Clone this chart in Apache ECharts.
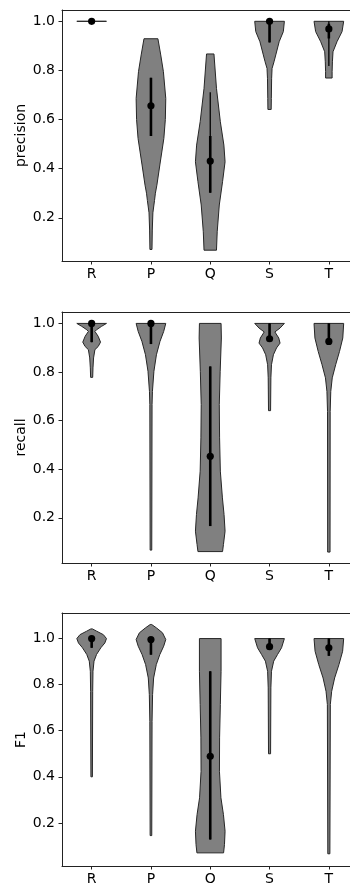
<!DOCTYPE html>
<html>
<head>
<meta charset="utf-8">
<script src="https://cdn.jsdelivr.net/npm/echarts@6/dist/echarts.min.js"></script>
<style>
  html, body { margin: 0; padding: 0; background: #fff; }
  #chart { width: 350px; height: 883px; }
</style>
</head>
<body>
<div id="chart"></div>
<script>
const categories = ['R', 'P', 'Q', 'S', 'T'];
const yTicks = [0.2, 0.4, 0.6, 0.8, 1.0];

// violin outlines, bottom to top: [value, half-width relative to the widest violin]
const precisionShapes = [
  [[1.0, 1.0]],
  [[0.071, 0.07], [0.15, 0.09], [0.22, 0.13], [0.252, 0.2], [0.27, 0.24], [0.30, 0.3], [0.333, 0.4], [0.415, 0.6], [0.523, 0.87], [0.6, 0.97], [0.686, 1.0], [0.795, 0.84], [0.863, 0.66], [0.929, 0.47]],
  [[0.068, 0.42], [0.143, 0.47], [0.252, 0.61], [0.347, 0.83], [0.428, 1.0], [0.496, 0.92], [0.591, 0.68], [0.727, 0.42], [0.867, 0.25]],
  [[0.641, 0.11], [0.686, 0.12], [0.768, 0.14], [0.808, 0.17], [0.835, 0.3], [0.863, 0.42], [0.917, 0.65], [0.958, 0.93], [1.0, 1.0]],
  [[0.769, 0.22], [0.795, 0.22], [0.835, 0.24], [0.876, 0.28], [0.917, 0.55], [0.958, 0.89], [1.0, 1.0]]
];
const precisionWhisker = [[1.0, 1.0], [0.533, 0.770], [0.302, 0.711], [0.914, 1.0], [0.818, 1.0]];
const precisionBox = [[1.0, 1.0], [0.533, 0.770], [0.302, 0.533], [0.914, 1.0], [0.93, 0.99]];
const precisionMedian = [1.0, 0.656, 0.431, 1.0, 0.969];

const recallShapes = [
  [[0.778, 0.07], [0.817, 0.09], [0.858, 0.13], [0.892, 0.22], [0.905, 0.44], [0.923, 0.6], [0.947, 0.44], [0.967, 0.22], [0.974, 0.33], [0.988, 0.67], [1.0, 1.0]],
  [[0.067, 0.055], [0.666, 0.075], [0.72, 0.1], [0.803, 0.2], [0.871, 0.37], [0.926, 0.61], [0.967, 0.86], [1.0, 1.0]],
  [[0.061, 0.83], [0.09, 0.89], [0.145, 1.0], [0.214, 0.93], [0.282, 0.82], [0.392, 0.68], [0.529, 0.63], [0.666, 0.61], [0.803, 0.67], [0.94, 0.75], [1.0, 0.73]],
  [[0.641, 0.07], [0.776, 0.09], [0.83, 0.13], [0.871, 0.26], [0.899, 0.47], [0.919, 0.71], [0.94, 0.62], [0.965, 0.36], [0.981, 0.71], [1.0, 1.0]],
  [[0.059, 0.08], [0.638, 0.09], [0.72, 0.13], [0.776, 0.23], [0.83, 0.46], [0.885, 0.72], [0.94, 0.94], [1.0, 1.0]]
];
const recallWhisker = [[0.923, 1.0], [0.915, 1.0], [0.166, 0.823], [0.925, 1.0], [0.925, 1.0]];
const recallBox = [[0.923, 1.0], [0.915, 1.0], [0.166, 0.823], [0.925, 1.0], [0.925, 1.0]];
const recallMedian = [1.0, 1.0, 0.453, 0.937, 0.926];

const f1Shapes = [
  [[0.40, 0.05], [0.771, 0.07], [0.858, 0.09], [0.902, 0.16], [0.931, 0.33], [0.96, 0.62], [0.981, 0.89], [1.0, 1.0], [1.017, 0.79], [1.032, 0.34], [1.042, 0.05]],
  [[0.145, 0.055], [0.641, 0.075], [0.757, 0.11], [0.829, 0.18], [0.887, 0.36], [0.931, 0.6], [0.967, 0.86], [0.996, 1.0], [1.025, 0.78], [1.046, 0.38], [1.061, 0.05]],
  [[0.07, 0.9], [0.106, 0.96], [0.164, 1.0], [0.236, 0.89], [0.309, 0.72], [0.424, 0.62], [0.569, 0.63], [0.714, 0.68], [0.858, 0.73], [1.0, 0.73]],
  [[0.5, 0.07], [0.786, 0.09], [0.858, 0.13], [0.902, 0.28], [0.931, 0.54], [0.96, 0.81], [1.0, 1.0]],
  [[0.066, 0.07], [0.714, 0.1], [0.771, 0.19], [0.829, 0.39], [0.887, 0.68], [0.945, 0.93], [1.0, 1.0]]
];
const f1Whisker = [[0.96, 1.0], [0.93, 0.996], [0.128, 0.858], [0.965, 1.0], [0.925, 1.0]];
const f1Box = [[0.96, 1.0], [0.93, 0.996], [0.128, 0.858], [0.965, 1.0], [0.925, 1.0]];
const f1Median = [1.0, 0.996, 0.489, 0.965, 0.96];

const panels = [
  { name: 'precision', min: 0.024, max: 1.046, top: 10, height: 251,
    shapes: precisionShapes, whisker: precisionWhisker, box: precisionBox, median: precisionMedian },
  { name: 'recall', min: 0.014, max: 1.047, top: 312, height: 251,
    shapes: recallShapes, whisker: recallWhisker, box: recallBox, median: recallMedian },
  { name: 'F1', min: 0.013, max: 1.111, top: 613, height: 253,
    shapes: f1Shapes, whisker: f1Whisker, box: f1Box, median: f1Median }
];

const font = 'DejaVu Sans';
const spineColor = '#222';

function makeRender(p) {
  return function (params, api) {
    const i = api.value(0);
    const half = api.size([1, 0])[0] * 0.25;
    const cx = api.coord([i, p.min])[0];
    const y = v => api.coord([i, v])[1];
    const prof = p.shapes[i];
    const right = prof.map(d => [cx + d[1] * half, y(d[0])]);
    const left = prof.slice().reverse().map(d => [cx - d[1] * half, y(d[0])]);
    return {
      type: 'group',
      children: [
        {
          type: 'polygon',
          shape: { points: right.concat(left) },
          style: { fill: '#808080', stroke: '#262626', lineWidth: 1 }
        },
        {
          type: 'line',
          shape: { x1: cx, y1: y(p.whisker[i][0]), x2: cx, y2: y(p.whisker[i][1]) },
          style: { stroke: '#000', lineWidth: 1.3 }
        },
        {
          type: 'line',
          shape: { x1: cx, y1: y(p.box[i][0]), x2: cx, y2: y(p.box[i][1]) },
          style: { stroke: '#000', lineWidth: 2.6 }
        },
        {
          type: 'circle',
          shape: { cx: cx, cy: y(p.median[i]), r: 3.6 },
          style: { fill: '#000' }
        }
      ]
    };
  };
}

const chart = echarts.init(document.getElementById('chart'));

const xAxes = [];
panels.forEach((p, k) => {
  xAxes.push({
    type: 'category',
    gridIndex: k,
    position: 'bottom',
    data: categories,
    boundaryGap: true,
    axisLine: { show: true, onZero: false, lineStyle: { color: spineColor, width: 1 } },
    axisTick: { show: true, alignWithLabel: true, length: 3.5, lineStyle: { color: spineColor } },
    axisLabel: { color: '#000', fontFamily: font, fontSize: 14, margin: 6 },
    splitLine: { show: false }
  });
  // top spine only
  xAxes.push({
    type: 'category',
    gridIndex: k,
    position: 'top',
    data: categories,
    axisLine: { show: true, onZero: false, lineStyle: { color: spineColor, width: 1 } },
    axisTick: { show: false },
    axisLabel: { show: false },
    splitLine: { show: false }
  });
});

chart.setOption({
  animation: false,
  grid: panels.map(p => ({
    left: 62, width: 296.5, top: p.top, height: p.height,
    outerBoundsMode: 'none', show: false
  })),
  xAxis: xAxes,
  yAxis: panels.map((p, k) => ({
    type: 'value',
    gridIndex: k,
    position: 'left',
    min: p.min,
    max: p.max,
    name: p.name,
    nameLocation: 'middle',
    nameGap: 34,
    nameMoveOverlap: false,
    nameTextStyle: { color: '#000', fontFamily: font, fontSize: 14 },
    axisLine: { show: true, onZero: false, lineStyle: { color: spineColor, width: 1 } },
    axisTick: { show: true, length: 3.5, lineStyle: { color: spineColor }, customValues: yTicks },
    axisLabel: {
      color: '#000', fontFamily: font, fontSize: 14, margin: 7,
      customValues: yTicks,
      formatter: v => v.toFixed(1)
    },
    splitLine: { show: false }
  })),
  series: panels.map((p, k) => ({
    type: 'custom',
    xAxisIndex: k * 2,
    yAxisIndex: k,
    silent: true,
    renderItem: makeRender(p),
    data: categories.map((c, i) => [i])
  }))
});
</script>
</body>
</html>
